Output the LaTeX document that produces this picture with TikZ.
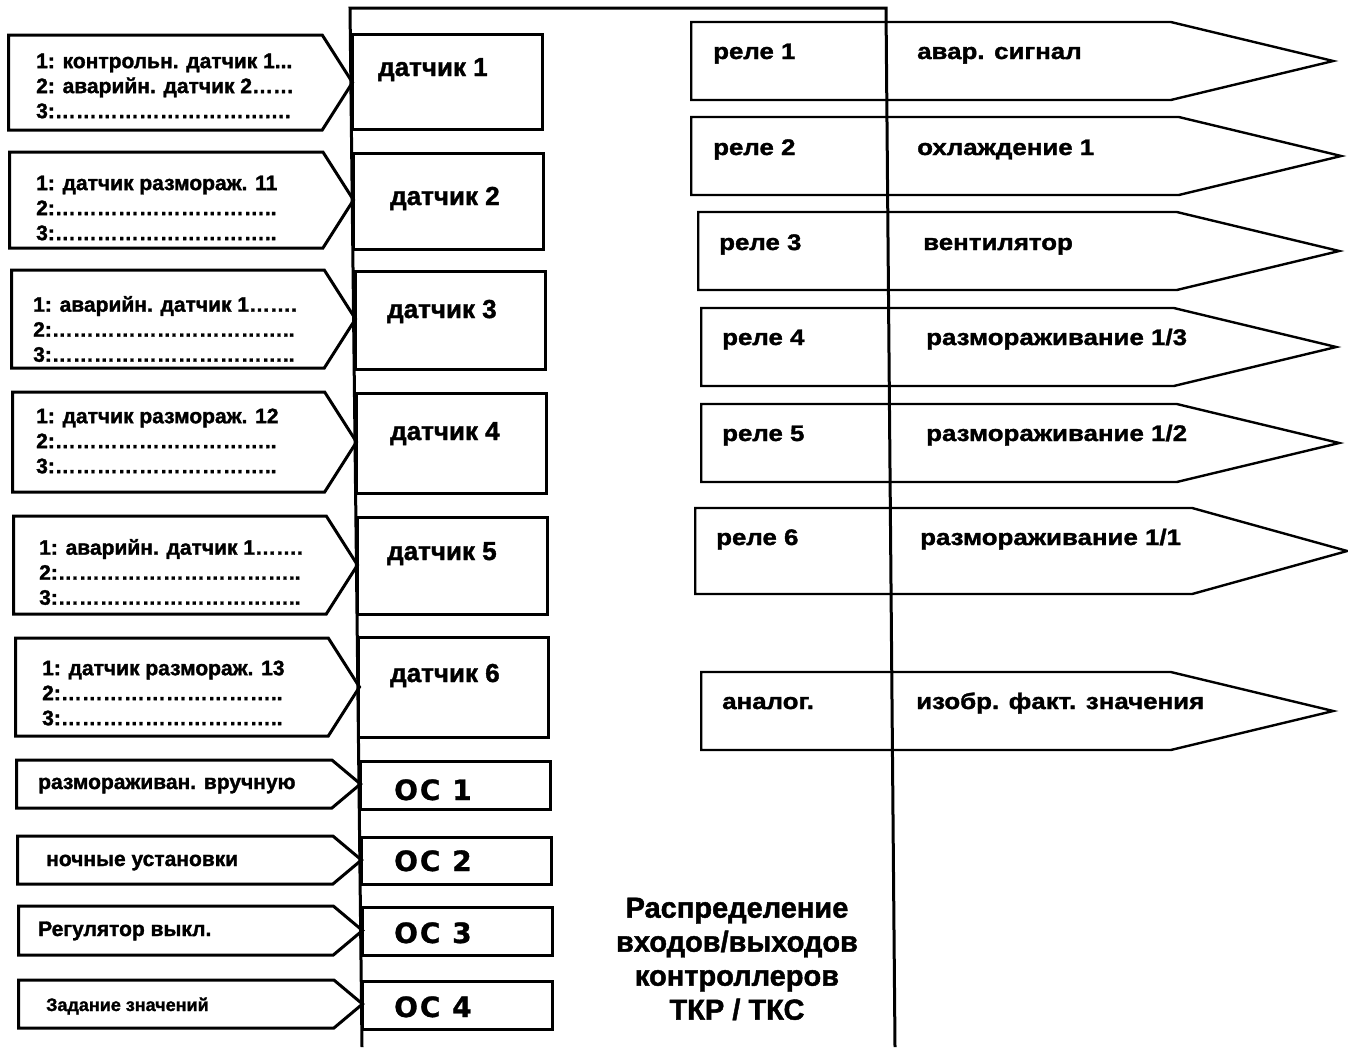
\documentclass[tikz,border=0pt]{standalone}
\usepackage{fontspec}
\setmainfont{Liberation Sans}[BoldFeatures={FakeBold=1.5}]
\newfontfamily\wideface[FakeStretch=1.15, BoldFeatures={FakeBold=1.5}]{Liberation Sans}
\newfontfamily\ocface[LetterSpace=7, BoldFeatures={FakeBold=1}]{DejaVu Sans}
\usetikzlibrary{shapes.symbols}

\begin{document}
\begin{tikzpicture}[
    x=1pt, y=-1pt,
    inbig/.style={draw=black, line width=3pt, signal, signal to=east, signal from=nowhere, signal pointer angle=115, minimum width=344pt, minimum height=96pt, inner sep=0pt, anchor=west},
    insmall/.style={inbig, signal pointer angle=80, minimum height=48pt},
    sensor/.style={draw=black, line width=3pt, rectangle, minimum width=190pt, minimum height=97pt, inner sep=0pt, anchor=north west},
    ocbox/.style={sensor, minimum height=48pt},
    outsig/.style={draw=black, line width=2.4pt, signal, signal to=east, signal from=nowhere, signal pointer angle=27, minimum height=78pt, inner sep=0pt, anchor=west},
    frame/.style={line width=3pt},
    intext/.style={anchor=west, align=left, inner sep=0pt, font=\bfseries\fontsize{21pt}{25pt}\selectfont},
    optext/.style={anchor=base west, inner sep=0pt, font=\bfseries\fontsize{21pt}{25pt}\selectfont},
    sensortext/.style={anchor=base west, inner sep=0pt, font=\bfseries\fontsize{26pt}{30pt}\selectfont},
    octext/.style={anchor=base west, inner sep=0pt, font=\ocface\bfseries\fontsize{28pt}{30pt}\selectfont},
    outtext/.style={anchor=base west, inner sep=0pt, font=\wideface\bfseries\fontsize{22.5pt}{27pt}\selectfont},
    titletext/.style={align=center, inner sep=0pt, font=\bfseries\fontsize{29pt}{34pt}\selectfont}
]
  \useasboundingbox (0,0) rectangle (1348,1047);

  % Input signals
  \node[inbig, minimum height=95pt] (in1) at (7,82.5) {};
  \node[inbig] (in2) at (8,200) {};
  \node[inbig, minimum height=98pt] (in3) at (10,319) {};
  \node[inbig, minimum height=100pt] (in4) at (11,442) {};
  \node[inbig, minimum height=98pt] (in5) at (12,565) {};
  \node[inbig, minimum height=98pt] (in6) at (14,687) {};
  \node[insmall] (in7) at (15,784) {};
  \node[insmall] (in8) at (16,860) {};
  \node[insmall, minimum height=49pt] (in9) at (17,930.5) {};
  \node[insmall] (in10) at (17,1004) {};

  % Sensor and OC boxes
  \node[sensor, minimum height=95pt] (s1) at (351,33) {};
  \node[sensor, minimum height=96pt] (s2) at (352,152) {};
  \node[sensor, minimum height=98pt] (s3) at (354,270) {};
  \node[sensor, minimum height=100pt] (s4) at (355,392) {};
  \node[sensor] (s5) at (356,516) {};
  \node[sensor, minimum height=100pt] (s6) at (357,636) {};
  \node[ocbox] (oc1) at (359,760) {};
  \node[ocbox, minimum height=47pt] (oc2) at (360,836) {};
  \node[ocbox] (oc3) at (361,906) {};
  \node[ocbox] (oc4) at (361,980) {};

  % Output signals
  \node[outsig, minimum width=642pt] (out1) at (690,61) {};
  \node[outsig, minimum width=650pt] (out2) at (690,156) {};
  \node[outsig, minimum width=641pt] (out3) at (697,251) {};
  \node[outsig, minimum width=635pt] (out4) at (700,347) {};
  \node[outsig, minimum width=638pt] (out5) at (700,443) {};
  \node[outsig, minimum width=652pt, minimum height=86pt, signal pointer angle=31] (out6) at (694,551) {};
  \node[outsig, minimum width=632pt] (an1) at (700,711) {};

  % Controller frame
  \coordinate (ftl) at (350,8);
  \coordinate (fbl) at (362,1047);
  \coordinate (ftr) at (886,8);
  \coordinate (fbr) at (895,1047);
  \draw[frame] (fbl) -- (ftl) -- (ftr) -- (fbr);

  % Input texts
  \node[intext] (in1t) at (36,86) {1: контрольн. датчик 1...\\2: аварийн. датчик 2……\\3:………………………….…};
  \node[intext] (in2t) at (36,208) {1: датчик размораж. 11\\2:…………………………..\\3:…………………………..};
  \node[intext] (in3t) at (33,329) {1: аварийн. датчик 1…….\\2:……………………………..\\3:……………………………..};
  \node[intext] (in4t) at (36,441) {1: датчик размораж. 12\\2:…………………………..\\3:…………………………..};
  \node[intext] (in5t) at (39,572) {1: аварийн. датчик 1…….\\2:……………………………..\\3:……………………………..};
  \node[intext] (in6t) at (42,693) {1: датчик размораж. 13\\2:…………………………..\\3:…………………………..};
  \node[optext] (in7t) at (38,789) {размораживан. вручную};
  \node[optext] (in8t) at (46,866) {ночные установки};
  \node[optext] (in9t) at (38,936) {Регулятор выкл.};
  \node[optext, font=\bfseries\fontsize{18pt}{22pt}\selectfont] (in10t) at (46,1011) {Задание значений};

  % Sensor and OC texts
  \node[sensortext] (s1t) at (378,76) {датчик 1};
  \node[sensortext] (s2t) at (390,205) {датчик 2};
  \node[sensortext] (s3t) at (387,318) {датчик 3};
  \node[sensortext] (s4t) at (390,440) {датчик 4};
  \node[sensortext] (s5t) at (387,560) {датчик 5};
  \node[sensortext] (s6t) at (390,682) {датчик 6};
  \node[octext] (oc1t) at (394,800) {ОС 1};
  \node[octext] (oc2t) at (394,871) {ОС 2};
  \node[octext] (oc3t) at (394,943) {ОС 3};
  \node[octext] (oc4t) at (394,1017) {ОС 4};

  % Output texts
  \node[outtext] (r1) at (713,59) {реле 1};
  \node[outtext] (f1) at (917,59) {авар. сигнал};
  \node[outtext] (r2) at (713,155) {реле 2};
  \node[outtext] (f2) at (917,155) {охлаждение 1};
  \node[outtext] (r3) at (719,250) {реле 3};
  \node[outtext] (f3) at (923,250) {вентилятор};
  \node[outtext] (r4) at (722,345) {реле 4};
  \node[outtext] (f4) at (926,345) {размораживание 1/3};
  \node[outtext] (r5) at (722,441) {реле 5};
  \node[outtext] (f5) at (926,441) {размораживание 1/2};
  \node[outtext] (r6) at (716,545) {реле 6};
  \node[outtext] (f6) at (920,545) {размораживание 1/1};
  \node[outtext] (a1) at (722,709) {аналог.};
  \node[outtext] (a2) at (916,709) {изобр. факт. значения};

  \node[titletext] (ttl) at (737,959) {Распределение\\входов/выходов\\контроллеров\\ТКР / ТКС};
\end{tikzpicture}
\end{document}
